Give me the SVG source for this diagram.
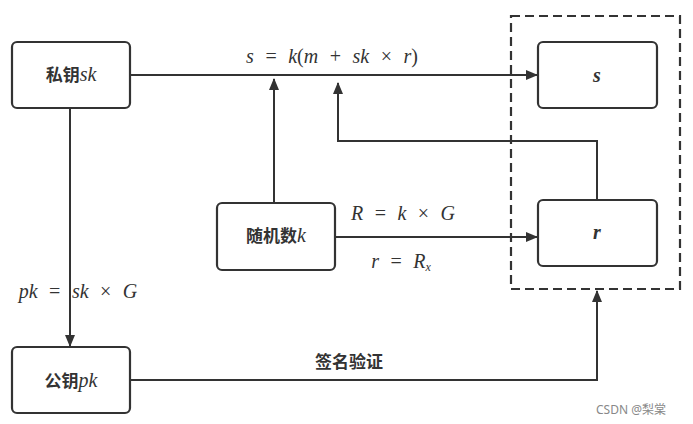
<svg xmlns="http://www.w3.org/2000/svg" width="693" height="424" viewBox="0 0 693 424">
<style>
.box{fill:#fff;stroke:#333;stroke-width:2.2}
.cn{font-family:"Noto Sans CJK SC","Noto Sans",sans-serif;font-size:17px;font-weight:bold;fill:#333}
.m{font-family:"Liberation Serif","DejaVu Serif",serif;font-size:20px;fill:#333}
.eq{word-spacing:6.5px}
.i{font-style:italic}
.b{font-weight:bold}
.ln{fill:none;stroke:#333;stroke-width:2}
.dash{fill:none;stroke:#333;stroke-width:2.2;stroke-dasharray:9,5}
</style>
<defs>
<marker id="ah" markerWidth="12" markerHeight="10" refX="11" refY="5" orient="auto" markerUnits="userSpaceOnUse">
<path d="M0,0 L12,5 L0,10 Z" fill="#333"/>
</marker>
</defs>
<rect width="693" height="424" fill="#fff"/>
<rect class="dash" x="511" y="16" width="169" height="273"/>
<g id="connectors">
<path class="ln" d="M130,75 H537" marker-end="url(#ah)"/>
<path class="ln" d="M274,203 V79" marker-end="url(#ah)"/>
<path class="ln" d="M597,200 V141 H338 V83" marker-end="url(#ah)"/>
<path class="ln" d="M335,237 H537" marker-end="url(#ah)"/>
<path class="ln" d="M70,108 V346" marker-end="url(#ah)"/>
<path class="ln" d="M130,380 H597 V291" marker-end="url(#ah)"/>
</g>
<g id="labels">
<text class="m eq" x="332" y="63" text-anchor="middle"><tspan class="i">s</tspan> = <tspan class="i">k</tspan>(<tspan class="i">m</tspan> + <tspan class="i">sk</tspan> × <tspan class="i">r</tspan>)</text>
<text class="m eq" x="403" y="220" text-anchor="middle"><tspan class="i">R</tspan> = <tspan class="i">k</tspan> × <tspan class="i">G</tspan></text>
<text class="m eq" x="401" y="268" text-anchor="middle"><tspan class="i">r</tspan> = <tspan class="i">R</tspan><tspan class="i" font-size="12" dy="3">x</tspan></text>
<text class="m eq" x="78" y="298" text-anchor="middle"><tspan class="i">pk</tspan> = <tspan class="i">sk</tspan> × <tspan class="i">G</tspan></text>
<text class="cn" x="349" y="368" text-anchor="middle">签名验证</text>
<text x="631" y="414" text-anchor="middle" font-family="'Noto Sans','Noto Sans CJK SC',sans-serif" font-size="12" fill="#888">CSDN @梨棠</text>
</g>
<g id="sk">
<rect class="box" x="12" y="42" width="118" height="66" rx="5"/>
<text x="71" y="81" text-anchor="middle"><tspan class="cn">私钥</tspan><tspan class="m i">sk</tspan></text>
</g>
<g id="rand">
<rect class="box" x="217" y="203" width="118" height="67" rx="5"/>
<text x="276" y="242" text-anchor="middle"><tspan class="cn">随机数</tspan><tspan class="m i">k</tspan></text>
</g>
<g id="pk">
<rect class="box" x="12" y="347" width="118" height="66" rx="5"/>
<text x="71" y="387" text-anchor="middle"><tspan class="cn">公钥</tspan><tspan class="m i">pk</tspan></text>
</g>
<g id="s">
<rect class="box" x="538" y="42" width="119" height="66" rx="5"/>
<text class="m i b" x="597" y="82" text-anchor="middle">s</text>
</g>
<g id="r">
<rect class="box" x="538" y="200" width="119" height="66" rx="5"/>
<text class="m i b" x="597" y="239" text-anchor="middle">r</text>
</g>
</svg>
